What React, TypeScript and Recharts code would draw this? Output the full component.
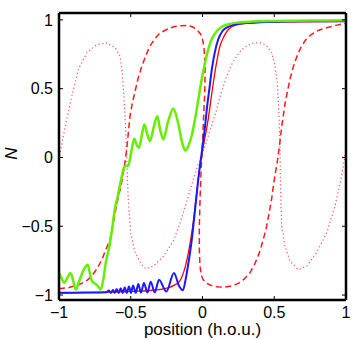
import React from 'react';
import { LineChart, Line, XAxis, YAxis } from 'recharts';

const xTicks = [-1, -0.5, 0, 0.5, 1];
const yTicks = [-1, -0.5, 0, 0.5, 1];
const xLabel = 'position (h.o.u.)';
const yLabel = 'N';

// Blue solid
const blueX = [-1, -0.9, -0.8, -0.72, -0.67, -0.652, -0.638, -0.624, -0.612, -0.598, -0.584, -0.57, -0.556, -0.542, -0.528, -0.512, -0.498, -0.484, -0.466, -0.447, -0.429, -0.408, -0.384, -0.361, -0.333, -0.303, -0.252, -0.199, -0.165, -0.136, -0.12, -0.1, -0.075, -0.05, -0.025, -0.006, 0.015, 0.03, 0.048, 0.065, 0.085, 0.11, 0.14, 0.18, 0.25, 0.35, 0.5, 0.7, 1];
const blueN = [-0.983, -0.983, -0.982, -0.981, -0.98, -0.967, -0.985, -0.963, -0.985, -0.956, -0.985, -0.951, -0.985, -0.944, -0.985, -0.937, -0.985, -0.93, -0.984, -0.92, -0.983, -0.913, -0.982, -0.903, -0.98, -0.888, -0.975, -0.839, -0.93, -0.965, -0.9, -0.78, -0.6, -0.36, -0.12, 0.03, 0.2, 0.35, 0.5, 0.64, 0.76, 0.86, 0.92, 0.95, 0.97, 0.98, 0.985, 0.99, 0.99];

// Red solid
const redX = [-1, -0.8, -0.6, -0.45, -0.35, -0.28, -0.23, -0.2, -0.16, -0.13, -0.1, -0.075, -0.05, -0.025, 0, 0.02, 0.04, 0.06, 0.075, 0.1, 0.122, 0.15, 0.18, 0.24, 0.35, 0.5, 1];
const redN = [-0.985, -0.983, -0.978, -0.972, -0.965, -0.957, -0.945, -0.93, -0.9, -0.83, -0.7, -0.55, -0.35, -0.12, 0.05, 0.16, 0.28, 0.43, 0.54, 0.7, 0.81, 0.88, 0.93, 0.965, 0.978, 0.985, 0.99];

// Green solid
const greenX = [-1, -0.985, -0.965, -0.94, -0.92, -0.9, -0.884, -0.86, -0.83, -0.8, -0.785, -0.77, -0.745, -0.725, -0.71, -0.69, -0.675, -0.65, -0.63, -0.61, -0.59, -0.575, -0.563, -0.55, -0.535, -0.517, -0.505, -0.493, -0.475, -0.458, -0.443, -0.425, -0.405, -0.385, -0.366, -0.34, -0.315, -0.295, -0.273, -0.24, -0.203, -0.17, -0.14, -0.12, -0.1, -0.075, -0.05, -0.02, 0, 0.02, 0.04, 0.06, 0.087, 0.115, 0.145, 0.19, 0.24, 0.35, 0.5, 0.75, 1];
const greenN = [-0.84, -0.87, -0.91, -0.87, -0.84, -0.9, -0.96, -0.9, -0.82, -0.78, -0.84, -0.9, -0.92, -0.94, -0.96, -0.88, -0.77, -0.65, -0.52, -0.37, -0.28, -0.2, -0.14, -0.08, -0.06, -0.06, -0.01, 0.06, 0.136, 0.09, 0.07, 0.15, 0.24, 0.17, 0.119, 0.22, 0.3, 0.2, 0.131, 0.26, 0.356, 0.25, 0.1, 0.05, 0.08, 0.16, 0.29, 0.48, 0.6, 0.7, 0.785, 0.85, 0.9, 0.935, 0.955, 0.97, 0.98, 0.988, 0.992, 0.995, 0.997];

// Red dashed
const dashX = [-1, -0.93, -0.86, -0.8, -0.77, -0.73, -0.7, -0.67, -0.645, -0.62, -0.6, -0.58, -0.563, -0.545, -0.528, -0.515, -0.505, -0.49, -0.47, -0.45, -0.424, -0.395, -0.366, -0.33, -0.296, -0.25, -0.2, -0.15, -0.11, -0.07, -0.04, -0.015, 0, 0.01, 0.017, 0.018, 0.015, 0.008, 0, -0.01, -0.017, -0.022, -0.022, -0.018, -0.01, 0.005, 0.03, 0.06, 0.1, 0.15, 0.2, 0.25, 0.29, 0.33, 0.366, 0.39, 0.41, 0.43, 0.447, 0.465, 0.482, 0.495, 0.505, 0.52, 0.533, 0.545, 0.555, 0.563, 0.575, 0.59, 0.61, 0.633, 0.66, 0.69, 0.72, 0.76, 0.81, 0.865, 0.93, 1];
const dashN = [-0.955, -0.945, -0.925, -0.89, -0.86, -0.8, -0.74, -0.66, -0.6, -0.47, -0.35, -0.26, -0.18, -0.07, 0.06, 0.2, 0.3, 0.39, 0.48, 0.57, 0.66, 0.74, 0.81, 0.865, 0.905, 0.93, 0.95, 0.958, 0.96, 0.95, 0.93, 0.9, 0.86, 0.8, 0.7, 0.6, 0.45, 0.3, 0.1, -0.1, -0.3, -0.5, -0.67, -0.78, -0.85, -0.89, -0.915, -0.93, -0.94, -0.942, -0.935, -0.915, -0.885, -0.84, -0.77, -0.71, -0.645, -0.57, -0.5, -0.4, -0.3, -0.2, -0.13, -0.04, 0.058, 0.16, 0.25, 0.3, 0.39, 0.47, 0.57, 0.66, 0.74, 0.81, 0.855, 0.895, 0.925, 0.943, 0.96, 0.975];

// Red dotted
const dotX = [-1, -0.975, -0.946, -0.91, -0.865, -0.807, -0.737, -0.672, -0.61, -0.575, -0.56, -0.548, -0.54, -0.535, -0.53, -0.526, -0.522, -0.517, -0.508, -0.5, -0.47, -0.424, -0.394, -0.343, -0.273, -0.2, -0.157, -0.11, -0.064, -0.03, 0.017, 0.06, 0.099, 0.13, 0.169, 0.2, 0.238, 0.27, 0.308, 0.35, 0.4, 0.435, 0.459, 0.48, 0.498, 0.512, 0.521, 0.528, 0.533, 0.537, 0.54, 0.542, 0.545, 0.552, 0.575, 0.61, 0.668, 0.726, 0.796, 0.865, 0.923, 0.97, 1];
const dotN = [-0.015, 0.13, 0.276, 0.446, 0.64, 0.76, 0.82, 0.834, 0.8, 0.737, 0.62, 0.45, 0.3, 0.18, 0.06, -0.06, -0.18, -0.305, -0.45, -0.55, -0.69, -0.78, -0.81, -0.79, -0.72, -0.6, -0.48, -0.32, -0.16, -0.05, 0.08, 0.22, 0.35, 0.47, 0.59, 0.67, 0.737, 0.78, 0.81, 0.83, 0.834, 0.82, 0.8, 0.76, 0.7, 0.62, 0.54, 0.42, 0.3, 0.18, 0.06, -0.1, -0.25, -0.5, -0.645, -0.754, -0.815, -0.79, -0.69, -0.55, -0.354, -0.136, 0.06];

const rows = (xs: number[], ns: number[]) => xs.map((x, i) => ({ x, n: ns[i] }));

const FONT = '"Liberation Sans", Arial, Helvetica, sans-serif';
const fmt = (v: number) => (v < 0 ? '\u2212' + String(Math.abs(v)) : String(v));
const TL = 4;
const LEFT_GAP = 6;
const BOTTOM_GAP = 7;

const BottomTick = (p: any) => (
  <g>
    <line x1={p.x} x2={p.x} y1={p.y - BOTTOM_GAP} y2={p.y - BOTTOM_GAP - TL} stroke="#000" strokeWidth={1} />
    <text x={p.x} y={p.y} dy="0.71em" textAnchor="middle" fontSize={16} fontFamily={FONT} fill="#000">
      {fmt(p.payload.value)}
    </text>
  </g>
);
const LeftTick = (p: any) => (
  <g>
    <line x1={p.x + LEFT_GAP} x2={p.x + LEFT_GAP + TL} y1={p.y} y2={p.y} stroke="#000" strokeWidth={1} />
    <text x={p.x} y={p.y} dy="0.355em" textAnchor="end" fontSize={16} fontFamily={FONT} fill="#000">
      {fmt(p.payload.value)}
    </text>
  </g>
);
const TopTick = (p: any) => (
  <line x1={p.x} x2={p.x} y1={p.y} y2={p.y + TL} stroke="#000" strokeWidth={1} />
);
const RightTick = (p: any) => (
  <line x1={p.x} x2={p.x - TL} y1={p.y} y2={p.y} stroke="#000" strokeWidth={1} />
);

const XLabel = (p: any) => {
  const vb = p.viewBox;
  return (
    <text x={vb.x + vb.width / 2} y={vb.y + 35} textAnchor="middle" fontSize={17} fontFamily={FONT} fill="#000">
      {xLabel}
    </text>
  );
};
const YLabel = (p: any) => {
  const vb = p.viewBox;
  const cx = vb.x + vb.width - 42;
  const cy = vb.y + vb.height / 2 - 3;
  return (
    <text x={cx} y={cy} transform={`rotate(-90, ${cx}, ${cy})`} textAnchor="middle" fontSize={17} fontStyle="italic" fontFamily={FONT} fill="#000">
      {yLabel}
    </text>
  );
};

const axisLine = { stroke: '#000', strokeWidth: 2.5 };

export default function App() {
  return (
    <div style={{ position: 'absolute', left: 0, top: 0, width: 354, height: 340, background: '#fff' }}>
      <LineChart width={354} height={340} margin={{ top: 0, right: 0, bottom: 0, left: 0 }}>
        <XAxis xAxisId="b" dataKey="x" type="number" domain={[-1, 1]} ticks={xTicks} orientation="bottom" height={40}
          tickSize={0} tickMargin={BOTTOM_GAP} tick={<BottomTick />} axisLine={axisLine} allowDataOverflow
          interval={0} label={<XLabel />} />
        <XAxis xAxisId="t" dataKey="x" type="number" domain={[-1, 1]} ticks={xTicks} orientation="top" height={13}
          tickSize={0} tickMargin={0} tick={<TopTick />} axisLine={axisLine} allowDataOverflow interval={0} />
        <YAxis yAxisId="l" dataKey="n" type="number" domain={[-1.036, 1.05]} ticks={yTicks} orientation="left" width={59}
          tickSize={0} tickMargin={LEFT_GAP} tick={<LeftTick />} axisLine={axisLine} allowDataOverflow
          interval={0} label={<YLabel />} />
        <YAxis yAxisId="r" dataKey="n" type="number" domain={[-1.036, 1.05]} ticks={yTicks} orientation="right" width={8}
          tickSize={0} tickMargin={0} tick={<RightTick />} axisLine={axisLine} allowDataOverflow interval={0} />
        <Line xAxisId="b" yAxisId="l" data={rows(dotX, dotN)} dataKey="n" type="linear" stroke="#ff4d4d" strokeWidth={1.2}
          strokeDasharray="1.2 2.6" dot={false} isAnimationActive={false} />
        <Line xAxisId="b" yAxisId="l" data={rows(dashX, dashN)} dataKey="n" type="linear" stroke="#ff1a1a" strokeWidth={1.5}
          strokeDasharray="6 3.5" dot={false} isAnimationActive={false} />
        <Line xAxisId="b" yAxisId="l" data={rows(redX, redN)} dataKey="n" type="monotone" stroke="#ff0000" strokeWidth={1.3}
          dot={false} isAnimationActive={false} />
        <Line xAxisId="b" yAxisId="l" data={rows(blueX, blueN)} dataKey="n" type="monotone" stroke="#1a1aff" strokeWidth={2}
          dot={false} isAnimationActive={false} />
        <Line xAxisId="b" yAxisId="l" data={rows(greenX, greenN)} dataKey="n" type="monotone" stroke="#66ee00" strokeWidth={2.5}
          dot={false} isAnimationActive={false} />
      </LineChart>
    </div>
  );
}
